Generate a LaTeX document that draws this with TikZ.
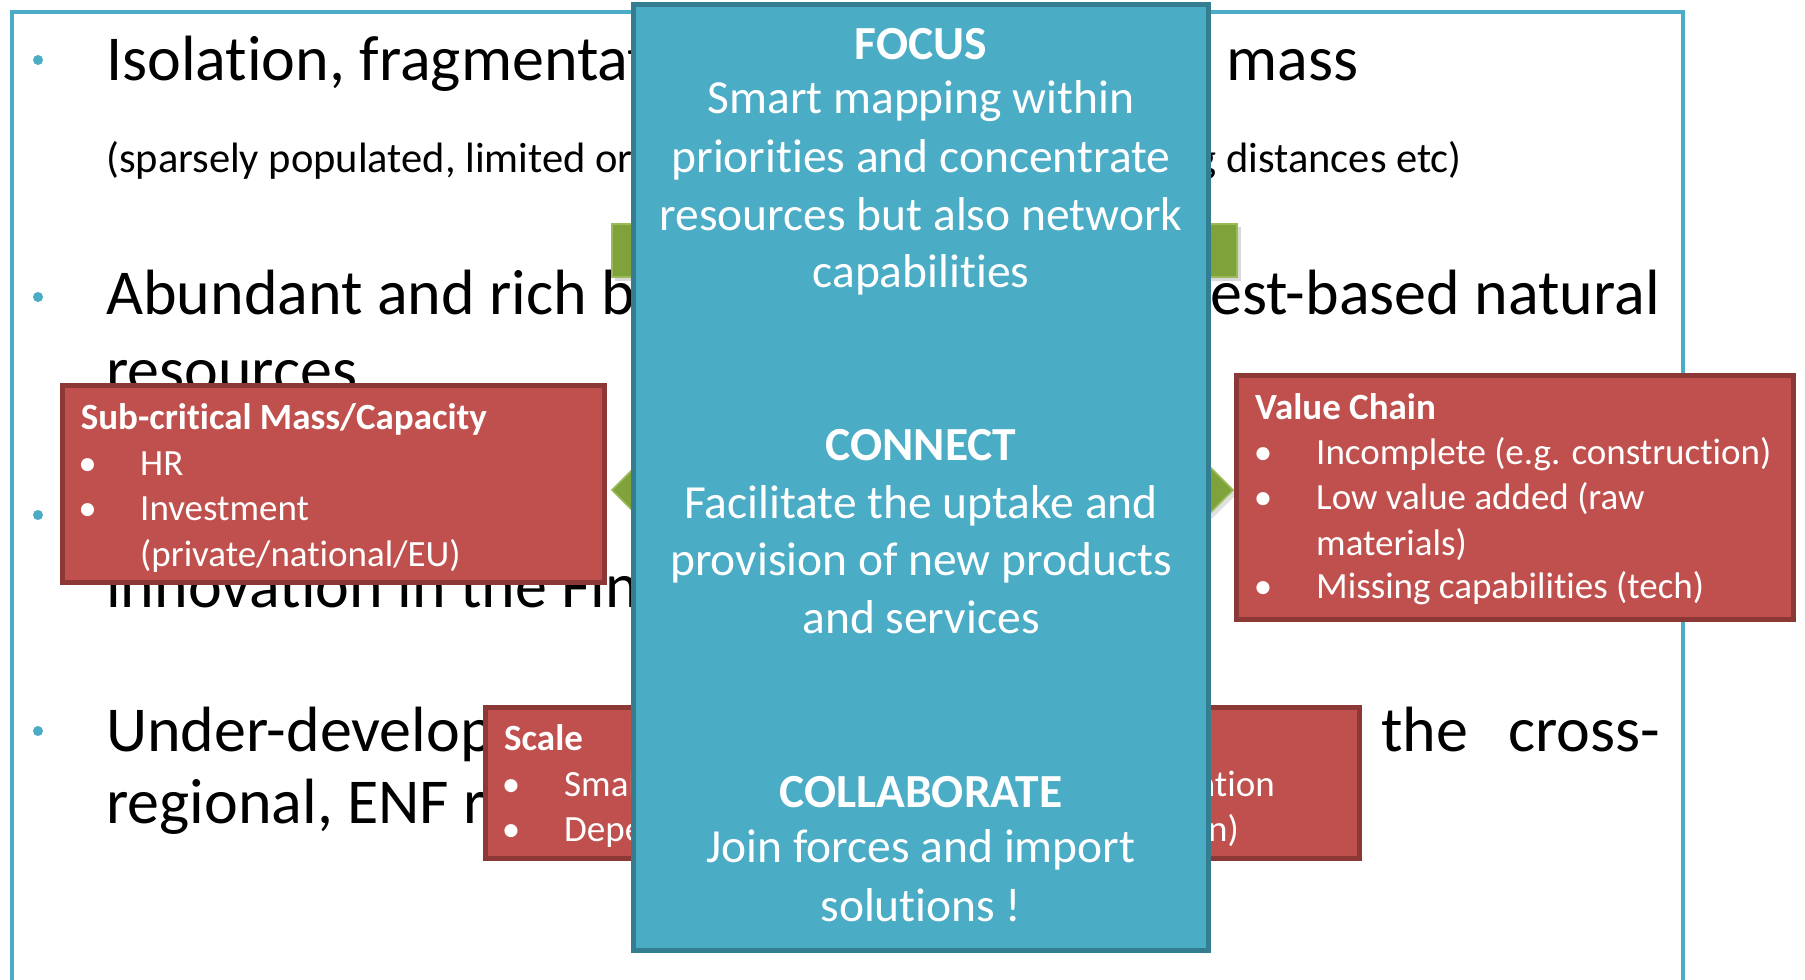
\documentclass[tikz,border=0pt]{standalone}
\usepackage{fontspec}
\setmainfont{Carlito}[Ligatures=CommonOff]
\definecolor{frameblue}{HTML}{4BACC6}
\definecolor{boxblue}{HTML}{4BACC6}
\definecolor{boxblueborder}{HTML}{357D91}
\definecolor{boxred}{HTML}{C0504D}
\definecolor{boxredborder}{HTML}{8C3836}
\definecolor{arrowgreen}{HTML}{7FA23A}
\definecolor{arrowgreenedge}{HTML}{9BBB59}
\begin{document}
\begin{tikzpicture}[x=1pt,y=-1pt,
  bigtxt/.style={font=\fontsize{64}{77}\selectfont, inner sep=0, anchor=base west, text=black},
  smalltxt/.style={font=\fontsize{42.5}{51}\selectfont, inner sep=0, anchor=base west, text=black},
  bluetxt/.style={font=\fontsize{47.5}{58}\selectfont, inner sep=0, anchor=base, text=white},
  bluehead/.style={font=\fontsize{47.5}{58}\selectfont\bfseries, inner sep=0, anchor=base, text=white},
  redtxt/.style={font=\fontsize{37}{45}\selectfont, inner sep=0, anchor=base west, text=white},
  redhead/.style={font=\fontsize{37}{45}\selectfont\bfseries, inner sep=0, anchor=base west, text=white},
  redbul/.style={font=\fontsize{37}{45}\selectfont, inner sep=0, anchor=base, text=white},
  redbox/.style={draw=boxredborder, fill=boxred, line width=5, inner sep=0, outer sep=0},
  bluebox/.style={draw=boxblueborder, fill=boxblue, line width=5, inner sep=0, outer sep=0},
  dot/.style={circle, fill=frameblue, inner sep=0, minimum size=10},
]
\useasboundingbox (0,0) rectangle (1805,980);
\fill[white] (0,0) rectangle (1805,980);

% outer frame
\draw[frameblue, line width=4] (11.5,990) -- (11.5,11.5) -- (1683,11.5) -- (1683,990);

% bullets of the slide
\node[dot] (d1) at (38,60) {};
\node[dot] (d2) at (38,297) {};
\node[dot] (d3) at (38,515) {};
\node[dot] (d4) at (38,731) {};

% slide text
\node[bigtxt] (t1a) at (106,80) {Isolation, fragmentati};
\node[bigtxt] (t1b) at (1226,80) {mass};
\node[smalltxt] (t2a) at (106,172) {(sparsely populated, limited org};
\node[smalltxt, anchor=base east] (t2b) at (1462,172) {ng distances etc)};
\node[bigtxt] (t3a) at (106,314) {Abundant and rich bi};
\node[bigtxt, anchor=base east] (t3b) at (1660,314) {rest-based natural};
\node[bigtxt] (t4) at (106,391) {resources};
\node[bigtxt] (t6) at (106,607) {innovation in the Finn};
\node[bigtxt] (t7a) at (106,751) {Under-develop};
\node[bigtxt] (t7b) at (1381,751) {the};
\node[bigtxt, anchor=base east] (t7c) at (1660,751) {cross-};
\node[bigtxt] (t8) at (106,823) {regional, ENF r};

% green arrows behind
\fill[black, opacity=0.15] (615,227) rectangle (1241,281);
\fill[arrowgreen, draw=arrowgreenedge, line width=1.5] (612,224) rectangle (1237,277);
\fill[black, opacity=0.12] (615,494) -- (655,454) -- (1196,454) -- (1237,494) -- (1196,534) -- (655,534) -- cycle;
\fill[arrowgreen, draw=arrowgreenedge, line width=1.5] (612,490) -- (652,450) -- (1193,450) -- (1233,490) -- (1193,530) -- (652,530) -- cycle;

% red boxes
\node[redbox, minimum width=542, minimum height=197] (r1) at (333.5,484) {};
\node[redbox, minimum width=557, minimum height=244] (r2) at (1515,497.5) {};
\node[redbox, minimum width=874, minimum height=151] (r3) at (922.5,783) {};

\node[redhead] (r1h) at (80.6,429) {Sub-critical Mass/Capacity};
\node[redbul] (r1b1) at (87.5,475) {•};
\node[redtxt] (r1i1) at (140,475) {HR};
\node[redbul] (r1b2) at (87.5,520) {•};
\node[redtxt] (r1i2) at (140,520) {Investment};
\node[redtxt] (r1i3) at (140,566) {(private/national/EU)};

\node[redhead] (r2h) at (1255,419) {Value Chain};
\node[redbul] (r2b1) at (1263,464) {•};
\node[redtxt] (r2i1) at (1316,464) {Incomplete (e.g. construction)};
\node[redbul] (r2b2) at (1263,509) {•};
\node[redtxt] (r2i2) at (1316,509) {Low value added (raw};
\node[redtxt] (r2i3) at (1316,555) {materials)};
\node[redbul] (r2b3) at (1263,598) {•};
\node[redtxt] (r2i4) at (1316,598) {Missing capabilities (tech)};

\node[redhead] (r3h) at (504,750) {Scale};
\node[redbul] (r3b1) at (511,796) {•};
\node[redtxt] (r3i1) at (564,796) {Small};
\node[redtxt, anchor=base east] (r3i1b) at (1275,796) {ntion};
\node[redbul] (r3b2) at (511,841) {•};
\node[redtxt] (r3i2) at (564,841) {Depen};
\node[redtxt, anchor=base east] (r3i2b) at (1239,841) {on)};

% central blue box
\node[bluebox, minimum width=575, minimum height=946] (focusbox) at (921,477.5) {};

\node[bluehead] (focus) at (921,59) {FOCUS};
\foreach \yy/\txt [count=\n] in {113/Smart mapping within, 172/priorities and concentrate, 230/resources but also network, 287/capabilities}
  \node[bluetxt] (fl\n) at (921,\yy) {\txt};
\node[bluehead] (connect) at (921,460) {CONNECT};
\foreach \yy/\txt [count=\n] in {518/Facilitate the uptake and, 575/provision of new products, 633/and services}
  \node[bluetxt] (cl\n) at (921,\yy) {\txt};
\node[bluehead] (collab) at (921,807) {COLLABORATE};
\foreach \yy/\txt [count=\n] in {862/Join forces and import, 921/solutions !}
  \node[bluetxt] (jl\n) at (921,\yy) {\txt};
\end{tikzpicture}
\end{document}
